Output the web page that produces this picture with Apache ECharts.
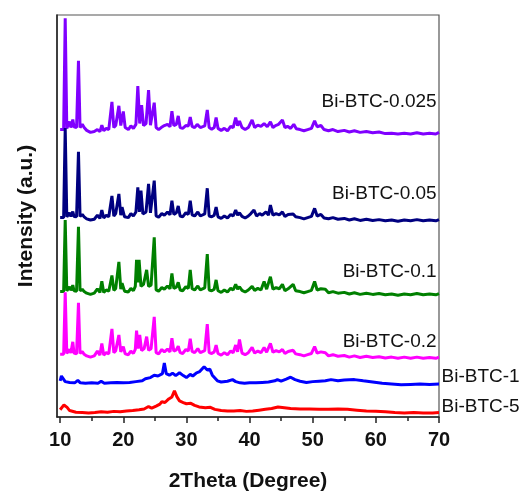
<!DOCTYPE html>
<html>
<head>
<meta charset="utf-8">
<script src="https://cdn.jsdelivr.net/npm/echarts@6/dist/echarts.min.js"></script>
<style>
  html, body { margin: 0; padding: 0; background: #fff; }
  #main { width: 522px; height: 491px; }
</style>
</head>
<body>
<div id="main"></div>
<script>
// sample names, top to bottom
const names = ['Bi-BTC-0.025', 'Bi-BTC-0.05', 'Bi-BTC-0.1', 'Bi-BTC-0.2', 'Bi-BTC-1', 'Bi-BTC-5'];
const colors = ['#8000ff', '#000080', '#008000', '#ff00ff', '#0000ff', '#ff0000'];

const xTicks = [10, 20, 30, 40, 50, 60, 70];
const xMinorTicks = [15, 25, 35, 45, 55, 65];

// [2theta, stacked intensity]
const d0025 = [[10.0,71.5],[10.3,71.2],[10.55,71.5],[10.8,99.2],[11.05,71.8],[11.3,72],[11.5,73.5],[11.7,72],[12.0,74],[12.2,72.2],[12.6,72],[12.9,88.6],[13.15,72],[13.5,72.8],[13.8,72],[14.2,71.3],[14.8,70.8],[15.4,71],[15.9,71.5],[16.3,71],[16.6,72.6],[16.9,71.2],[17.3,71.8],[17.7,71.5],[18.2,78.4],[18.5,72],[18.8,72.5],[19.3,77.4],[19.6,72.5],[20.0,76],[20.3,72],[20.8,71.5],[21.2,72.4],[21.6,71.8],[22.0,72.8],[22.3,82.3],[22.6,73],[22.9,77.6],[23.2,72.5],[23.6,73],[24.0,81.3],[24.3,72.6],[24.6,73],[24.9,78.2],[25.2,72],[25.6,71.5],[26.0,72],[26.5,72.5],[27.0,72.8],[27.4,72.2],[27.7,76.1],[28.0,72.5],[28.4,72.8],[28.7,74.9],[29.0,72],[29.4,71.8],[29.9,72.5],[30.3,72.4],[30.6,74.6],[30.9,72.3],[31.3,72],[31.7,72.8],[32.2,72],[32.9,72.4],[33.3,76.4],[33.6,72],[34.0,71.6],[34.4,72],[34.7,74.5],[35.0,71.8],[35.5,71.3],[36.0,71.8],[36.5,71.2],[37.0,72.3],[37.4,72],[37.8,74.5],[38.1,72.5],[38.4,73.6],[38.8,72],[39.3,71.5],[39.8,72],[40.4,73.9],[40.8,72],[41.3,72.6],[41.8,72.3],[42.3,73],[42.8,72.2],[43.3,73.4],[43.7,72],[44.1,72.5],[44.6,72.8],[45.2,73.9],[45.6,72],[46.0,72.3],[46.5,71.8],[47.0,72.8],[47.4,71.7],[48.0,71.5],[48.6,71.2],[49.2,71.5],[49.8,71.8],[50.3,73.7],[50.7,72.2],[51.3,72.5],[51.8,71.5],[52.5,71.2],[53.2,71.5],[54.0,71],[55.0,71.3],[55.8,70.9],[56.6,71.2],[57.5,70.8],[58.5,71],[59.5,70.7],[60.5,70.9],[61.5,70.5],[62.5,70.6],[63.5,70.4],[64.5,70.6],[65.5,70.4],[66.5,70.7],[67.5,70.4],[68.5,70.6],[69.5,70.4],[70.0,70.8]];

const d005 = [[10.0,49.6],[10.3,49.3],[10.55,49.6],[10.8,71.9],[11.05,49.8],[11.3,50],[11.5,50.8],[11.7,49.9],[12.0,51.1],[12.2,49.9],[12.6,49.8],[12.9,66.0],[13.15,49.9],[13.5,50.4],[13.8,49.8],[14.2,49.3],[14.8,49.0],[15.4,49.2],[15.9,50.2],[16.3,49.4],[16.6,51.5],[16.9,49.5],[17.3,50.2],[17.7,49.8],[18.2,55.0],[18.5,50],[18.8,50.6],[19.3,55.5],[19.6,50.2],[19.8,52.2],[20.2,49.8],[20.8,49.6],[21.2,50.6],[21.6,50],[22.0,51],[22.3,57.1],[22.55,51],[22.8,56.3],[23.1,50.5],[23.6,51],[24.0,58.0],[24.3,50.8],[24.6,51.2],[24.9,58.8],[25.2,50],[25.6,49.7],[26.1,50.6],[26.5,50.2],[27.0,51],[27.4,50.3],[27.7,53.8],[28.0,50.4],[28.4,50.8],[28.7,52.5],[29.0,50],[29.4,49.8],[29.9,50.8],[30.3,50.4],[30.6,53.8],[30.9,50.3],[31.3,50],[31.8,51],[32.2,50],[32.9,50.5],[33.3,56.9],[33.6,50],[34.0,49.8],[34.4,50.2],[34.7,52.2],[35.0,49.8],[35.5,49.4],[36.0,50],[36.5,49.5],[37.0,50.4],[37.4,50],[37.8,51.5],[38.1,50.2],[38.4,50.8],[38.8,49.9],[39.3,49.5],[39.8,50],[40.2,50.6],[40.7,51.5],[41.1,50],[41.6,50.6],[42.0,50.2],[42.6,51],[43.0,50.2],[43.3,52.7],[43.7,50.2],[44.2,50.6],[44.7,50.3],[45.2,51.0],[45.6,49.9],[46.1,50.4],[46.9,50.5],[47.3,49.8],[48.0,49.6],[48.6,49.3],[49.2,49.6],[49.8,49.9],[50.3,51.9],[50.7,50],[51.3,50.4],[51.8,49.5],[52.5,49.3],[53.2,49.6],[54.0,49.2],[55.0,49.4],[55.8,49.0],[56.6,49.3],[57.5,48.9],[58.5,49.2],[59.5,48.9],[60.5,49.1],[61.5,48.8],[62.5,49.0],[63.5,48.7],[64.5,49.0],[65.5,48.8],[66.5,49.1],[67.5,48.8],[68.5,49.0],[69.5,48.8],[70.0,49.1]];

const d01 = [[10.0,31.2],[10.3,30.9],[10.55,31.2],[10.8,49.0],[11.05,31.4],[11.3,31.6],[11.5,32.4],[11.7,31.5],[12.0,32.8],[12.2,31.4],[12.6,31.3],[12.9,47.3],[13.15,31.4],[13.5,31.8],[13.8,31.2],[14.2,30.8],[14.8,30.5],[15.4,30.8],[15.9,31.9],[16.3,31],[16.6,33.8],[16.9,31],[17.3,31.6],[17.7,31.3],[18.2,35.2],[18.5,31.5],[18.8,32],[19.3,38.6],[19.6,31.8],[19.8,33.3],[20.2,31.3],[20.8,31.1],[21.2,32],[21.6,31.4],[21.9,32.5],[22.1,39.1],[22.3,33.5],[22.5,39.1],[22.8,32.5],[23.2,33],[23.7,36.6],[24.0,32.5],[24.4,32.8],[24.9,44.7],[25.2,31.6],[25.6,31.3],[26.1,32.2],[26.5,31.8],[27.0,32.6],[27.4,31.9],[27.7,35.7],[28.0,32],[28.4,32.3],[28.7,33.5],[29.0,31.6],[29.4,31.4],[29.9,32.4],[30.3,32],[30.6,36.6],[30.9,31.9],[31.3,31.6],[31.8,32.6],[32.2,31.6],[32.9,32.1],[33.3,40.5],[33.6,31.6],[34.0,31.4],[34.4,31.8],[34.7,34.1],[35.0,31.4],[35.5,31],[36.0,31.6],[36.5,31.1],[37.0,32],[37.4,31.6],[37.8,33.0],[38.1,31.8],[38.4,32.4],[38.8,31.5],[39.3,31.1],[39.8,31.6],[40.4,32.5],[40.8,31.5],[41.3,32],[41.8,31.6],[42.3,33.7],[42.7,31.8],[43.3,34.9],[43.7,31.8],[44.2,32.2],[44.7,31.9],[45.2,33.0],[45.6,31.4],[46.1,31.9],[46.9,33.0],[47.3,31.4],[48.0,31.2],[48.6,30.9],[49.2,31.2],[49.8,31.5],[50.3,33.7],[50.7,31.6],[51.3,31.9],[52.0,31.8],[52.5,30.9],[53.2,31.2],[54.0,30.8],[55.0,31.0],[55.8,30.6],[56.6,30.9],[57.5,30.5],[58.5,30.8],[59.5,30.5],[60.5,30.7],[61.5,30.4],[62.5,30.6],[63.5,30.3],[64.5,30.6],[65.5,30.4],[66.5,30.7],[67.5,30.4],[68.5,30.6],[69.5,30.4],[70.0,30.7]];

const d02 = [[10.0,15.6],[10.3,15.3],[10.55,15.6],[10.8,31.0],[11.05,15.8],[11.3,16],[11.5,16.8],[11.7,15.9],[12.0,18.7],[12.2,15.9],[12.6,15.7],[12.9,28.4],[13.15,15.8],[13.5,16.3],[13.8,15.6],[14.2,15.2],[14.8,14.9],[15.4,15.2],[15.9,16.4],[16.3,15.4],[16.6,18.3],[16.9,15.4],[17.3,16],[17.7,15.7],[18.2,21.9],[18.5,16],[18.8,16.5],[19.3,20.4],[19.6,16.2],[20.0,17.5],[20.3,15.7],[20.8,15.5],[21.2,16.4],[21.6,15.8],[21.9,16.8],[22.1,21.5],[22.35,17],[22.6,20.4],[22.9,16.5],[23.3,17],[23.7,20.0],[24.0,16.6],[24.4,17],[24.9,24.9],[25.2,16],[25.6,15.7],[26.1,16.8],[26.5,16.2],[27.0,16.9],[27.4,16.2],[27.7,19.6],[28.0,16.4],[28.4,16.7],[28.7,17.6],[29.0,16],[29.4,15.8],[29.9,16.8],[30.3,16.4],[30.6,19.5],[30.9,16.3],[31.3,16],[31.8,17],[32.2,16],[32.9,16.5],[33.3,23.1],[33.6,16],[34.0,15.8],[34.4,16.2],[34.7,17.9],[35.0,15.8],[35.5,15.4],[36.0,16],[36.5,15.5],[37.0,16.4],[37.4,16],[37.8,17.9],[38.1,16.2],[38.4,19.3],[38.8,15.9],[39.3,15.5],[39.8,16],[40.4,17.3],[40.8,15.9],[41.3,16.4],[41.8,16],[42.3,17.3],[42.7,16.1],[43.3,18.3],[43.7,16.1],[44.2,16.5],[44.7,16.2],[45.2,16.8],[45.6,15.8],[46.1,16.3],[46.9,16.6],[47.3,15.7],[48.0,15.5],[48.6,15.2],[49.2,15.5],[49.8,15.8],[50.3,17.5],[50.7,15.9],[51.3,16.2],[52.0,16],[52.5,15.2],[53.2,15.5],[54.0,15.1],[55.0,15.3],[55.8,14.9],[56.6,15.2],[57.5,14.8],[58.5,15.1],[59.5,14.8],[60.5,15.0],[61.5,14.7],[62.5,14.9],[63.5,14.6],[64.5,14.9],[65.5,14.6],[66.5,14.9],[67.5,14.6],[68.5,14.8],[69.5,14.6],[70.0,14.9]];

const d1 = [[10.0,9.0],[10.2,10.2],[10.5,9.5],[10.8,8.8],[11.5,8.6],[12.3,8.5],[12.8,9.1],[13.2,8.5],[14.0,8.4],[15.0,8.5],[16.0,8.4],[16.5,8.9],[17.0,8.4],[18.0,8.5],[19.0,8.6],[20.0,8.5],[21.0,8.6],[22.0,8.8],[23.0,9.0],[23.5,9.5],[24.3,9.8],[24.9,10.4],[25.5,10.2],[26.2,10.8],[26.5,13.4],[26.8,10.8],[27.3,10.4],[27.8,10.9],[28.3,10.3],[28.9,11.0],[29.5,10.3],[30.0,9.8],[30.6,10.6],[31.0,10.2],[31.6,11.0],[32.1,11.3],[32.8,12.5],[33.3,11.7],[33.7,11.9],[34.1,10.4],[34.9,9.0],[35.5,8.7],[36.5,8.9],[37.3,9.3],[37.8,8.8],[38.5,8.5],[39.2,8.4],[40.0,8.5],[41.0,8.5],[42.0,8.6],[43.0,8.7],[44.0,9.0],[44.4,9.3],[45.0,8.9],[45.8,9.4],[46.5,9.9],[47.2,9.3],[48.0,8.9],[49.0,8.6],[50.0,8.8],[51.0,8.9],[52.0,9.0],[52.9,9.3],[54.0,9.0],[55.0,9.2],[56.6,9.3],[58.0,9.0],[59.5,8.7],[61.0,8.4],[62.5,8.2],[64.0,8.0],[65.5,8.1],[67.0,8.2],[68.5,8.1],[70.0,8.2]];

const d5 = [[10.0,1.8],[10.3,2.2],[10.6,3.0],[10.8,3.4],[11.1,2.4],[11.5,1.6],[12.5,1.2],[13.5,1.1],[14.5,1.0],[15.5,1.1],[16.5,1.3],[17.5,1.2],[18.5,1.4],[19.5,1.3],[20.5,1.5],[21.5,1.6],[22.5,1.8],[23.3,2.0],[24.0,2.6],[24.5,2.2],[25.2,2.7],[25.8,3.2],[26.1,3.8],[26.6,3.6],[27.2,4.5],[27.7,5.0],[28.1,6.5],[28.5,5.0],[28.9,4.0],[29.5,3.6],[30.0,3.3],[30.7,3.4],[31.3,2.9],[32.0,2.5],[33.0,2.3],[33.8,2.4],[34.5,1.9],[35.5,1.6],[36.5,1.5],[37.5,1.5],[38.5,1.6],[39.5,1.4],[40.5,1.5],[41.5,1.7],[42.5,1.9],[43.5,2.1],[44.5,2.5],[45.5,2.3],[46.5,2.1],[48.0,2.0],[49.5,2.0],[51.0,1.9],[52.5,1.9],[54.0,2.0],[55.5,1.9],[57.0,1.7],[58.5,1.5],[60.0,1.4],[61.5,1.3],[63.0,1.1],[64.5,1.0],[66.0,1.1],[67.5,1.0],[69.0,1.0],[70.0,1.1]];

const allData = [d0025, d005, d01, d02, d1, d5];

// where each name label sits, in axis units
const labelAt = [[69.7, 78.4], [69.7, 55.5], [69.7, 36.1], [69.7, 18.7], [70, 10.0], [70, 2.6]];
const labelSide = ['left', 'left', 'left', 'left', 'right', 'right'];

const fontName = '"Liberation Sans", Arial, sans-serif';

let series = [];
for (let i = 0; i < names.length; i++) {
  series.push({
    name: names[i],
    type: 'line',
    data: allData[i],
    symbol: 'none',
    clip: true,
    lineStyle: { color: colors[i], width: 3 },
    markPoint: {
      symbol: 'circle',
      symbolSize: 1,
      itemStyle: { color: 'rgba(0,0,0,0)' },
      data: [{ coord: labelAt[i], value: names[i] }],
      label: {
        show: true,
        position: labelSide[i],
        distance: labelSide[i] === 'right' ? 2 : 0,
        formatter: names[i],
        color: '#111',
        fontFamily: fontName,
        fontSize: 19
      }
    }
  });
}

const chart = echarts.init(document.getElementById('main'));
const option = {
  animation: false,
  backgroundColor: '#fff',
  grid: {
    left: 57, right: 83, top: 15, bottom: 74,
    outerBoundsMode: 'none',
    show: true,
    borderColor: '#555',
    borderWidth: 1.2
  },
  xAxis: [{
    type: 'value',
    min: 9.5,
    max: 70,
    name: '2Theta (Degree)',
    nameLocation: 'middle',
    nameGap: 54,
    nameTextStyle: { fontFamily: fontName, fontSize: 21, fontWeight: 'bold', color: '#111' },
    splitLine: { show: false },
    axisLine: { lineStyle: { color: '#222', width: 1.5 } },
    axisTick: { customValues: xTicks, length: 6, lineStyle: { color: '#222', width: 1.5 } },
    axisLabel: { customValues: xTicks, margin: 13, fontFamily: fontName, fontSize: 20, fontWeight: 'bold', color: '#111' }
  }, {
    type: 'value',
    min: 9.5,
    max: 70,
    position: 'bottom',
    splitLine: { show: false },
    axisLine: { show: false },
    axisTick: { customValues: xMinorTicks, length: 4, lineStyle: { color: '#222', width: 1.5 } },
    axisLabel: { show: false }
  }],
  yAxis: {
    type: 'value',
    min: 0,
    max: 100,
    name: 'Intensity (a.u.)',
    nameLocation: 'middle',
    nameRotate: 90,
    nameGap: 20,
    nameTextStyle: { fontFamily: fontName, fontSize: 21, fontWeight: 'bold', color: '#111' },
    splitLine: { show: false },
    axisTick: { show: false },
    axisLabel: { show: false },
    axisLine: { show: true, lineStyle: { color: '#222', width: 1.5 } }
  },
  series: series
};
chart.setOption(option);
</script>
</body>
</html>
